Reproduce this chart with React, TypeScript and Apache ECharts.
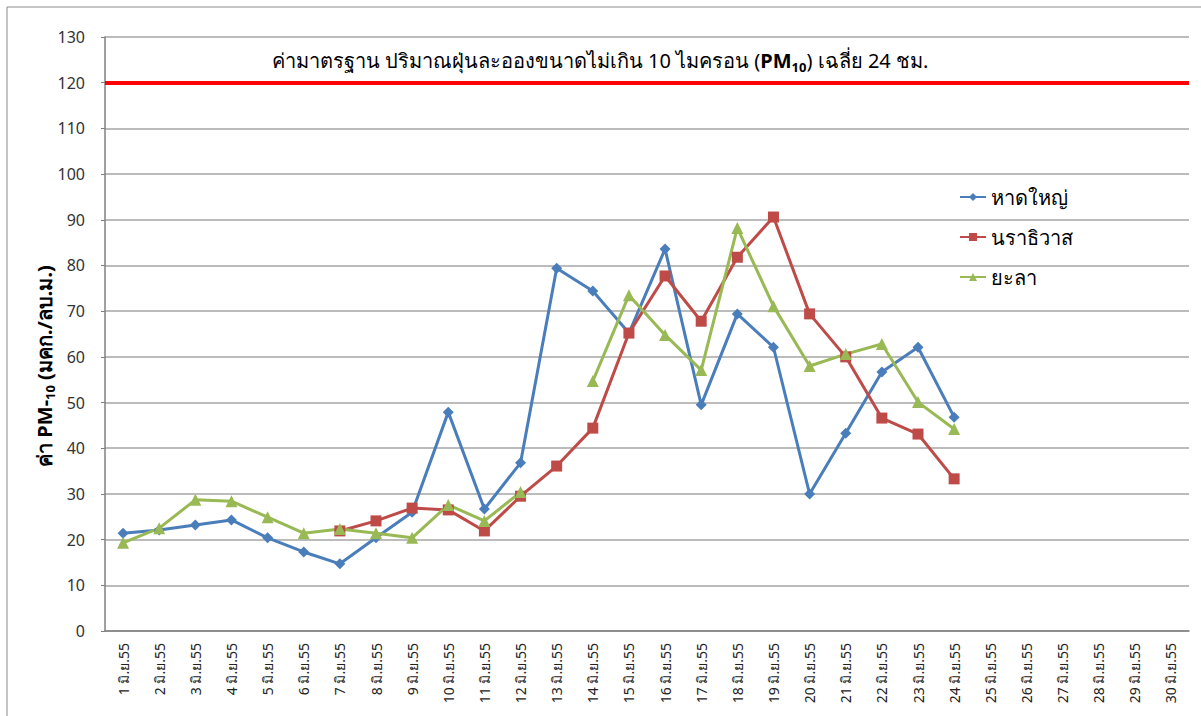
import React, { useEffect, useRef } from "react";
import * as echarts from "echarts";

const categories = [
  "1 มิ.ย.55", "2 มิ.ย.55", "3 มิ.ย.55", "4 มิ.ย.55", "5 มิ.ย.55", "6 มิ.ย.55",
  "7 มิ.ย.55", "8 มิ.ย.55", "9 มิ.ย.55", "10 มิ.ย.55", "11 มิ.ย.55", "12 มิ.ย.55",
  "13 มิ.ย.55", "14 มิ.ย.55", "15 มิ.ย.55", "16 มิ.ย.55", "17 มิ.ย.55", "18 มิ.ย.55",
  "19 มิ.ย.55", "20 มิ.ย.55", "21 มิ.ย.55", "22 มิ.ย.55", "23 มิ.ย.55", "24 มิ.ย.55",
  "25 มิ.ย.55", "26 มิ.ย.55", "27 มิ.ย.55", "28 มิ.ย.55", "29 มิ.ย.55", "30 มิ.ย.55",
];

const hatYai = [
  21.4, 22.1, 23.2, 24.3, 20.4, 17.3, 14.7, 20.4, 26.0, 47.9, 26.7, 36.8,
  79.4, 74.4, 65.2, 83.6, 49.5, 69.4, 62.1, 30.0, 43.3, 56.7, 62.1, 46.8,
  null, null, null, null, null, null,
];

const narathiwat = [
  null, null, null, null, null, null, 21.9, 24.1, 26.9, 26.5, 21.9, 29.5,
  36.1, 44.4, 65.2, 77.7, 67.8, 81.8, 90.6, 69.4, 60.0, 46.6, 43.1, 33.3,
  null, null, null, null, null, null,
];

const yala = [
  19.3, 22.5, 28.7, 28.4, 24.9, 21.4, 22.3, 21.4, 20.4, 27.6, 24.1, 30.4,
  null, 54.7, 73.5, 64.8, 57.1, 88.2, 71.1, 58.0, 60.6, 62.8, 50.1, 44.2,
  null, null, null, null, null, null,
];

const standardValue = 120;

const seriesNames = ["หาดใหญ่", "นราธิวาส", "ยะลา"];

const FONT = "'Noto Sans', 'DejaVu Sans', sans-serif";

export default function App() {
  const ref = useRef<HTMLDivElement>(null);

  useEffect(() => {
    if (!ref.current) return;
    const chart = echarts.init(ref.current, undefined, { renderer: "svg" });
    const lineSeries = (name: string, data: (number | null)[], color: string, symbol: string, size: number) => ({
      name,
      type: "line",
      data,
      connectNulls: false,
      symbol,
      symbolSize: size,
      showAllSymbol: true,
      lineStyle: { color, width: 3 },
      itemStyle: { color },
      z: 3,
    });
    chart.setOption({
      animation: false,
      backgroundColor: "#ffffff",
      textStyle: { fontFamily: FONT },
      grid: { left: 105, top: 37, right: 12, bottom: 85, containLabel: false },
      legend: {
        orient: "vertical",
        left: 954,
        top: 182,
        itemGap: 20,
        itemWidth: 26,
        itemHeight: 10,
        data: seriesNames,
        textStyle: { fontSize: 20, color: "#000", fontFamily: FONT },
      },
      xAxis: {
        type: "category",
        data: categories,
        boundaryGap: true,
        axisLine: { lineStyle: { color: "#808080", width: 1.5 } },
        axisTick: { show: false },
        axisLabel: { rotate: 90, fontSize: 14, color: "#222", margin: 12, interval: 0, fontFamily: FONT },
        splitLine: { show: false },
      },
      yAxis: {
        type: "value",
        min: 0,
        max: 130,
        interval: 10,
        axisLine: { show: true, lineStyle: { color: "#808080", width: 1.5 } },
        axisTick: { show: true, length: 4, lineStyle: { color: "#808080" } },
        axisLabel: { fontSize: 16, color: "#333", margin: 20, fontFamily: FONT },
        splitLine: { lineStyle: { color: "#a6a6a6", width: 1.5 } },
      },
      graphic: [
        {
          type: "rect",
          shape: { x: 7, y: 7, width: 1400, height: 1000 },
          style: { fill: "none", stroke: "#8c8c8c", lineWidth: 1 },
          silent: true,
        },
        {
          type: "text",
          x: 600,
          y: 60,
          style: {
            text: "{n|ค่ามาตรฐาน ปริมาณฝุ่นละอองขนาดไม่เกิน 10 ไมครอน (}{b|PM}{s|10}{n|) เฉลี่ย 24 ชม.}",
            align: "center",
            verticalAlign: "middle",
            rich: {
              n: { fontSize: 20, fill: "#000", fontFamily: FONT },
              b: { fontSize: 20, fill: "#000", fontWeight: "bold", fontFamily: FONT },
              s: { fontSize: 13, fill: "#000", fontWeight: "bold", fontFamily: FONT, padding: [14, 0, 0, 0] },
            },
          },
          silent: true,
        },
        {
          type: "text",
          x: 44,
          y: 366,
          rotation: Math.PI / 2,
          style: {
            text: "{n|ค่า PM-}{s|10}{n| (มคก./ลบ.ม.)}",
            align: "center",
            verticalAlign: "middle",
            rich: {
              n: { fontSize: 20, fill: "#000", fontWeight: "bold", fontFamily: FONT },
              s: { fontSize: 13, fill: "#000", fontWeight: "bold", fontFamily: FONT, padding: [12, 0, 0, 0] },
            },
          },
          silent: true,
        },
      ],
      series: [
        lineSeries(seriesNames[0], hatYai, "#4a7ebb", "diamond", 11),
        lineSeries(seriesNames[1], narathiwat, "#be4b48", "rect", 11),
        lineSeries(seriesNames[2], yala, "#98b954", "triangle", 12),
        {
          name: "standard",
          type: "line",
          data: [],
          silent: true,
          markLine: {
            silent: true,
            symbol: "none",
            label: { show: false },
            lineStyle: { color: "#ff0000", width: 4, type: "solid" },
            data: [{ yAxis: standardValue }],
          },
          z: 2,
        },
      ],
    });
    return () => chart.dispose();
  }, []);

  return (
    <div
      ref={ref}
      style={{ position: "fixed", left: 0, top: 0, width: 1201, height: 716, background: "#fff" }}
    />
  );
}
